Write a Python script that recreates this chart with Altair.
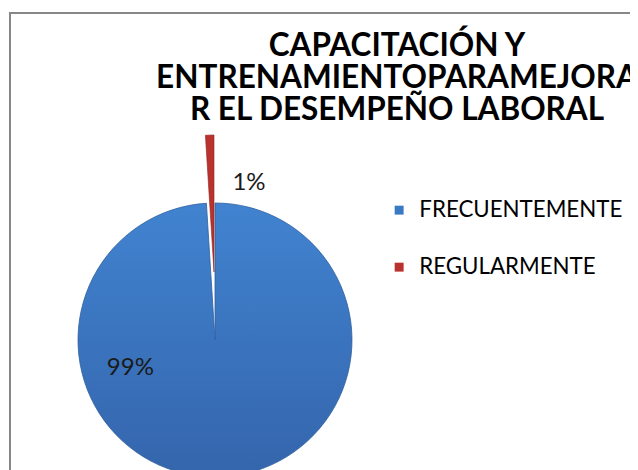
import altair as alt
import pandas as pd

categories = ["FRECUENTEMENTE", "REGULARMENTE"]
values = [99, 1]
labels = ["99%", "1%"]
order = [0, 1]
title_lines = ["CAPACITACIÓN Y", "ENTRENAMIENTOPARAMEJORA", "R EL DESEMPEÑO LABORAL"]

df = pd.DataFrame({"categoria": categories, "valor": values, "etiqueta": labels, "orden": order})

W, H = 620, 457
CX, CY = 205, 327
R = 137
FONT = "Lato"

blue_grad = alt.LinearGradient(
    gradient="linear", x1=0, y1=0, x2=0, y2=1,
    stops=[alt.GradientStop(color="#4183D0", offset=0), alt.GradientStop(color="#3465AC", offset=1)],
)

color = alt.Color(
    "categoria:N",
    scale=alt.Scale(domain=categories, range=["#3C79C5", "#BA322E"]),
    legend=alt.Legend(
        title=None, orient="none", legendX=378, legendY=186,
        symbolType="square", symbolSize=80, symbolStrokeWidth=0, symbolOpacity=1,
        labelFont=FONT, labelFontSize=22.3, labelColor="#000000", labelLimit=400,
        rowPadding=34, labelOffset=9,
    ),
)
theta = alt.Theta("valor:Q", stack=True)
order_enc = alt.Order("orden:Q")
is_f = alt.datum.categoria == "FRECUENTEMENTE"

base = alt.Chart(df)

frame = base.mark_rect(fillOpacity=0, stroke="#878787", strokeWidth=2).encode(
    x=alt.value(0), x2=alt.value(W + 40), y=alt.value(0), y2=alt.value(H + 40)
)
blue = base.mark_arc(x=CX, y=CY, outerRadius=R, fill=blue_grad, stroke="#2F5F9F", strokeWidth=0.8).encode(
    theta=theta, order=order_enc,
    opacity=alt.when(is_f).then(alt.value(1)).otherwise(alt.value(0)),
)
red = base.mark_arc(x=CX - 1, y=CY - 68, outerRadius=R, stroke="#8E2522", strokeWidth=0.6).encode(
    theta=theta, order=order_enc, color=color,
    opacity=alt.when(is_f).then(alt.value(0)).otherwise(alt.value(1)),
)
lab99 = base.mark_text(x=CX, y=CY, font=FONT, fontSize=24, color="#1a1a1a", thetaOffset=1.288).encode(
    theta=theta, order=order_enc, radius=alt.value(89), text="etiqueta:N",
    opacity=alt.when(is_f).then(alt.value(1)).otherwise(alt.value(0)),
)
lab1 = base.mark_text(x=CX, y=CY, font=FONT, fontSize=24, color="#1a1a1a", thetaOffset=0.244).encode(
    theta=theta, order=order_enc, radius=alt.value(161), text="etiqueta:N",
    opacity=alt.when(is_f).then(alt.value(0)).otherwise(alt.value(1)),
)

chart = (
    alt.layer(frame, blue, red, lab99, lab1)
    .properties(
        width=W, height=H,
        autosize=alt.AutoSizeParams(type="none"),
        padding={"left": 2, "top": 5, "right": 0, "bottom": 0},
        title=alt.TitleParams(
            text=title_lines, font=FONT, fontSize=31.5, fontWeight="bold", color="#000000",
            anchor="middle", frame="group", dx=77, dy=118, lineHeight=32,
        ),
    )
    .configure_view(stroke=None)
)

chart.save("out.html", embed_options={"renderer": "svg", "actions": False})
